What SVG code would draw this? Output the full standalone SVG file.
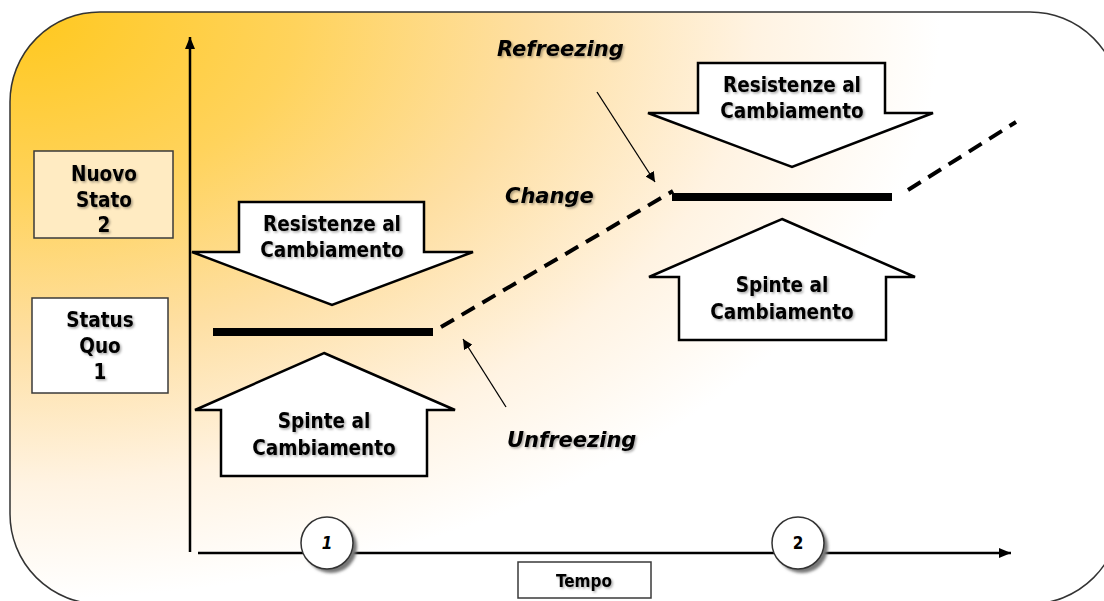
<svg xmlns="http://www.w3.org/2000/svg" width="1104" height="601" viewBox="0 0 1104 601">
<defs>
<radialGradient id="bg" gradientUnits="userSpaceOnUse" cx="20" cy="20" r="920" gradientTransform="translate(20 20) scale(1 0.63) translate(-20 -20)">
<stop offset="0" stop-color="#FFC81E"/>
<stop offset="0.3" stop-color="#FFD35C"/>
<stop offset="0.55" stop-color="#FEDFA2"/>
<stop offset="0.8" stop-color="#FFF3E2"/>
<stop offset="1" stop-color="#FFFFFF"/>
</radialGradient>
<filter id="ts" x="-10%" y="-20%" width="130%" height="150%">
<feDropShadow dx="1.5" dy="1.5" stdDeviation="1.2" flood-color="#000" flood-opacity="0.35"/>
</filter>
<filter id="cs" x="-30%" y="-30%" width="170%" height="170%">
<feGaussianBlur stdDeviation="1.5"/>
</filter>
<marker id="ah" viewBox="0 0 10 10" refX="10" refY="5" markerWidth="10" markerHeight="10" markerUnits="userSpaceOnUse" orient="auto">
<path d="M0,0 L10,5 L0,10 Z" fill="#000"/>
</marker>
<marker id="ax" viewBox="0 0 12 10" refX="12" refY="5" markerWidth="12" markerHeight="10" markerUnits="userSpaceOnUse" orient="auto">
<path d="M0,0 L12,5 L0,10 Z" fill="#000"/>
</marker>
</defs>
<style>
.t{font-family:"DejaVu Sans Condensed","DejaVu Sans","Liberation Sans",sans-serif;font-stretch:condensed;font-weight:bold;font-size:20.5px;fill:#000;text-anchor:middle}
.it{font-family:"DejaVu Sans","Liberation Sans",sans-serif;font-weight:bold;font-style:italic;font-size:21px;fill:#000;text-anchor:start}
.box{stroke:#3a3a3a;stroke-width:1.5}
.arr{fill:#fff;stroke:#000;stroke-width:2.5;stroke-linejoin:miter}
.bar{stroke:#000;stroke-width:8}
.dash{stroke:#000;stroke-width:4;stroke-dasharray:15 9;fill:none}
.thin{stroke:#000;stroke-width:1.3;fill:none}
.axis{stroke:#000;stroke-width:2.5;fill:none}
</style>
<rect id="frame" x="10" y="12" width="1110" height="592" rx="90" ry="90" fill="url(#bg)" stroke="#333" stroke-width="1.5"/>

<g id="connectors">
<line class="axis" x1="190" y1="552" x2="190" y2="37" marker-end="url(#ax)"/>
<line class="axis" x1="198" y1="553" x2="1011" y2="553" marker-end="url(#ax)"/>
<line class="dash" x1="441" y1="327" x2="673" y2="191"/>
<line class="dash" x1="908" y1="190" x2="1016" y2="122"/>
<line class="thin" x1="597" y1="92" x2="655" y2="182" marker-end="url(#ah)"/>
<line class="thin" x1="506" y1="407" x2="463" y2="339" marker-end="url(#ah)"/>
</g>

<g id="nuovo-stato">
<rect class="box" x="34" y="151" width="139" height="87" fill="#FFEBC2"/>
<g filter="url(#ts)">
<text class="t" x="104" y="181">Nuovo</text>
<text class="t" x="104" y="207">Stato</text>
<text class="t" x="104" y="232">2</text>
</g>
</g>

<g id="status-quo">
<rect class="box" x="32" y="298" width="136" height="95" fill="#fff"/>
<g filter="url(#ts)">
<text class="t" x="100" y="327">Status</text>
<text class="t" x="100" y="353">Quo</text>
<text class="t" x="100" y="379">1</text>
</g>
</g>

<g id="resistenze-1">
<polygon class="arr" points="239,202 424,202 424,252 473,252 332,305 192,252 239,252"/>
<g filter="url(#ts)">
<text class="t" x="332" y="231">Resistenze al</text>
<text class="t" x="332" y="257">Cambiamento</text>
</g>
</g>

<g id="status-bar-1">
<line class="bar" x1="213" y1="332" x2="433" y2="332"/>
</g>

<g id="spinte-1">
<polygon class="arr" points="324,353 455,410 427,410 427,476 221,476 221,410 195,410"/>
<g filter="url(#ts)">
<text class="t" x="324" y="428">Spinte al</text>
<text class="t" x="324" y="455">Cambiamento</text>
</g>
</g>

<g id="resistenze-2">
<polygon class="arr" points="698,63 885,63 885,113 933,113 792,167 648,113 698,113"/>
<g filter="url(#ts)">
<text class="t" x="792" y="92">Resistenze al</text>
<text class="t" x="792" y="118">Cambiamento</text>
</g>
</g>

<g id="status-bar-2">
<line class="bar" x1="672" y1="197" x2="892" y2="197"/>
</g>

<g id="spinte-2">
<polygon class="arr" points="782,219 915,277 886,277 886,340 679,340 679,277 649,277"/>
<g filter="url(#ts)">
<text class="t" x="782" y="292">Spinte al</text>
<text class="t" x="782" y="319">Cambiamento</text>
</g>
</g>

<g id="label-refreezing" filter="url(#ts)">
<text class="it" x="497" y="56">Refreezing</text>
</g>
<g id="label-change" filter="url(#ts)">
<text class="it" x="505" y="203">Change</text>
</g>
<g id="label-unfreezing" filter="url(#ts)">
<text class="it" x="507" y="447">Unfreezing</text>
</g>

<g id="time-1">
<circle cx="331" cy="547" r="26" fill="#777" filter="url(#cs)"/>
<circle cx="327" cy="543" r="26" fill="#fff" stroke="#333" stroke-width="1.5"/>
<text class="t" x="327" y="549" style="font-size:17px;font-style:italic">1</text>
</g>

<g id="time-2">
<circle cx="802" cy="547" r="26" fill="#777" filter="url(#cs)"/>
<circle cx="798" cy="543" r="26" fill="#fff" stroke="#333" stroke-width="1.5"/>
<text class="t" x="798" y="549" style="font-size:17px">2</text>
</g>

<g id="tempo">
<rect class="box" x="518" y="562" width="133" height="36" fill="#fff"/>
<text class="t" x="584" y="587" style="font-size:17px" filter="url(#ts)">Tempo</text>
</g>
</svg>
